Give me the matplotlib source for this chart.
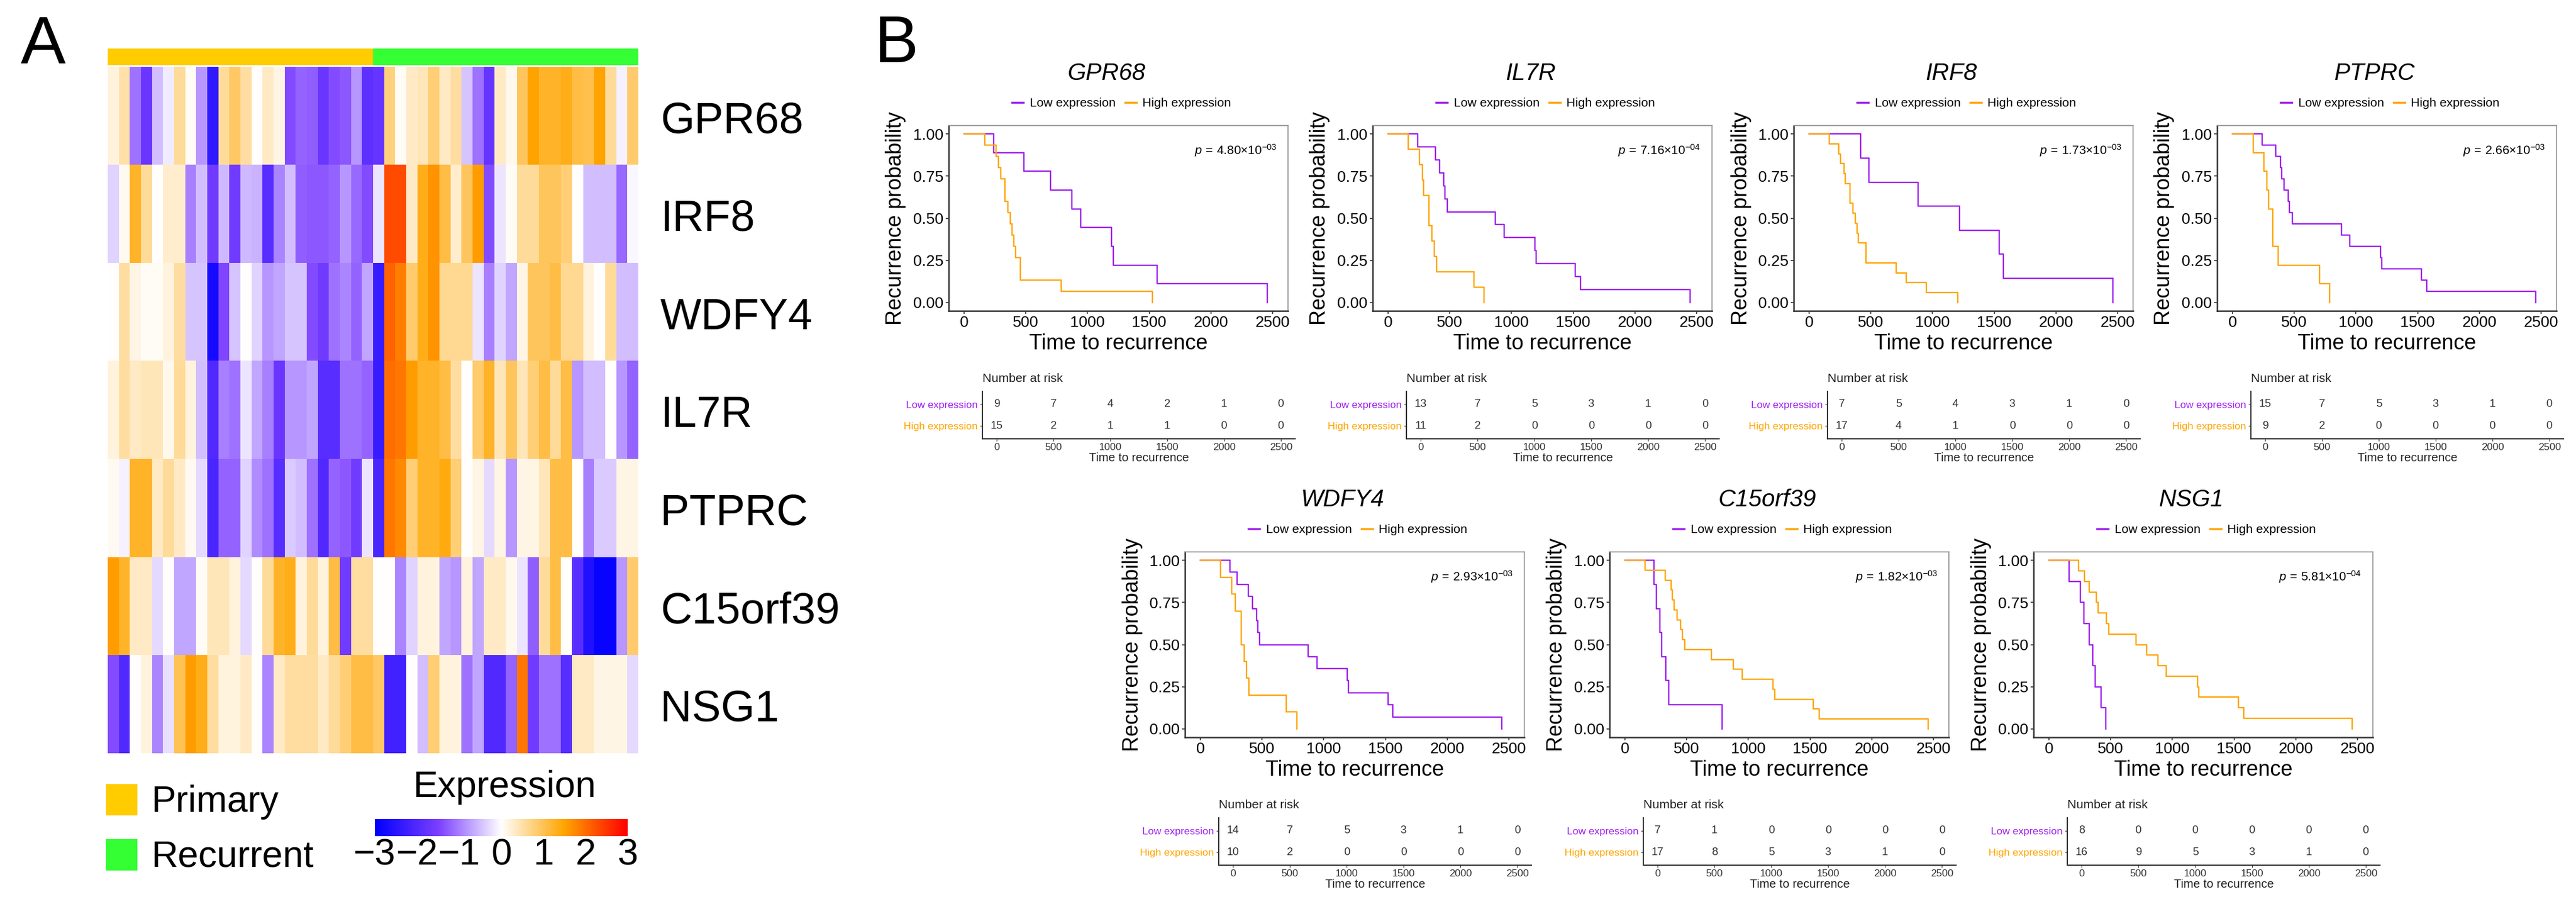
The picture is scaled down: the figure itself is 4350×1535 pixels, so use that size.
import numpy as np
import matplotlib.pyplot as plt
from matplotlib.colors import LinearSegmentedColormap, ListedColormap
from matplotlib.lines import Line2D
from matplotlib.patches import Rectangle
from matplotlib.transforms import blended_transform_factory

plt.rcParams['font.family'] = ['Liberation Sans', 'DejaVu Sans']
plt.rcParams['mathtext.fontset'] = 'custom'
plt.rcParams['mathtext.rm'] = 'Liberation Sans'
plt.rcParams['mathtext.it'] = 'Liberation Sans:italic'

# ---------------- heatmap data (z-scored expression, 7 genes x 48 samples) ----------------
heat_genes = ['GPR68', 'IRF8', 'WDFY4', 'IL7R', 'PTPRC', 'C15orf39', 'NSG1']
group_names = ['Primary', 'Recurrent']
group_colors = ['#FFCC00', '#33FF33']
sample_groups = ['Primary'] * 24 + ['Recurrent'] * 24

hm_gpr68 = [0.2, 0.5, -1.1, -1.7, -0.5, -0.15, 0.6, 0.05, -0.8, -2.4, 0.6, 0.9, 0.55, 0.0, 0.35, 0.15,
            -1.4, -1.2, -1.25, -1.7, -1.4, -1.3, -0.8, -1.85,
            -1.75, 0.75, 0.05, 0.35, 0.4, 0.8, 0.35, 0.55, -0.45, -1.1, -1.75, 0.35, 0.1, 0.95, 1.5, 1.25,
            1.25, 1.35, 1.1, 1.05, 1.5, 0.6, -0.1, 0.85]
hm_irf8 = [-0.35, 0.08, 1.25, 0.6, 0.0, 0.3, 0.3, -1.0, -0.5, -1.6, -0.55, -1.6, -0.55, -0.6, -1.9, -0.95,
           -0.5, -1.25, -1.3, -1.3, -1.2, -0.8, -1.15, -1.4,
           -0.2, 2.3, 2.3, 0.35, 1.35, 1.65, 1.1, 0.3, 0.95, 1.55, -1.4, -0.2, 0.05, 0.6, 0.6, 0.95,
           0.95, 0.8, 0.0, -0.5, -0.5, -0.5, -1.15, -0.05]
hm_wdfy4 = [0.02, 0.55, 0.15, 0.05, 0.05, 0.2, 0.55, -0.45, -0.45, -2.7, -1.45, -0.45, 0.0, -0.35, -0.8, -0.7,
            -0.45, -0.45, -1.4, -1.6, -1.1, -0.95, -1.2, -0.7,
            -2.3, 2.1, 1.85, 0.85, 1.35, 1.65, 0.65, 0.65, 0.65, -0.2, -1.0, -0.35, -0.7, 0.15, 0.95, 0.95,
            1.1, 0.65, 0.65, 0.2, 0.0, 0.6, -0.5, -0.5]
hm_il7r = [0.2, 0.55, 0.35, 0.4, 0.4, 0.1, 0.6, 0.2, -0.5, -2.0, -1.0, -1.1, -0.2, -0.7, -1.0, -1.7,
           -0.8, -0.8, -0.7, -1.9, -1.9, -1.1, -1.1, -1.2,
           -2.3, 2.0, 1.9, 1.55, 1.25, 1.25, 1.1, 0.55, 0.0, 0.85, 1.25, 0.4, 0.95, 0.4, 0.8, 1.1,
           0.6, 1.1, -0.8, -0.5, -0.5, 0.0, -0.8, -1.2]
hm_ptprc = [0.08, -0.1, 1.25, 1.25, 0.35, 0.6, 0.35, 0.08, -0.3, -2.1, -1.2, -1.2, -0.35, -0.9, -1.1, -1.9,
            -0.4, -0.5, -1.1, -2.0, -1.2, -1.3, -1.6, -0.2,
            -2.1, 1.9, 1.75, 0.8, 1.25, 1.25, 1.4, 0.8, 0.0, 0.15, -0.3, 0.15, -0.8, 0.15, 0.15, 0.4,
            1.1, 1.1, 0.0, -1.0, -0.4, -0.4, 0.15, 0.15]
hm_c15orf39 = [1.55, 1.25, 0.35, 0.35, -0.3, 0.0, -0.7, -0.7, 0.05, 0.4, 0.4, 0.2, -0.3, 0.0, 0.6, 1.25,
               1.35, 0.2, 0.6, 0.2, 1.1, -1.6, 0.55, 0.55,
               0.0, 0.0, -0.95, -0.35, 0.2, 0.2, -0.7, -0.8, 0.2, -0.7, 0.35, 0.35, 0.1, -0.2, -1.25, 0.6,
               1.1, 0.0, -1.9, -2.6, -2.9, -2.9, -0.8, 0.85]
hm_nsg1 = [-1.4, -2.0, 0.0, 0.2, -0.95, -0.25, 1.0, 1.55, 1.35, 0.55, 0.2, 0.2, 0.35, 0.0, -0.95, 0.35,
           0.55, 0.55, 0.55, 0.35, 0.6, 0.8, 1.1, 1.1,
           0.9, -2.2, -2.2, 0.0, -0.5, 0.8, 0.2, 0.2, -1.1, -0.7, -2.0, -2.0, -1.2, 1.9, -1.6, -1.1,
           -1.1, -1.9, 0.35, 0.35, 0.15, 0.15, 0.15, -0.3]
cbar_ticks = [-3, -2, -1, 0, 1, 2, 3]

# ---------------- Kaplan-Meier step data (time, probability) ----------------
gpr68_low_t = [0, 242, 485, 700, 874, 947, 1194, 1207, 1564, 2456]
gpr68_low_s = [1, 0.889, 0.778, 0.667, 0.556, 0.444, 0.333, 0.222, 0.111, 0]
gpr68_high_t = [0, 170, 258, 280, 297, 330, 357, 374, 390, 401, 418, 458, 786, 1526]
gpr68_high_s = [1, 0.933, 0.867, 0.8, 0.733, 0.6, 0.533, 0.467, 0.4, 0.333, 0.267, 0.133, 0.067, 0]

il7r_low_t = [0, 239, 385, 417, 453, 459, 481, 870, 940, 1190, 1201, 1517, 1558, 2447]
il7r_low_s = [1, 0.923, 0.846, 0.769, 0.692, 0.615, 0.538, 0.462, 0.385, 0.308, 0.231, 0.154, 0.077, 0]
il7r_high_t = [0, 165, 254, 278, 288, 329, 357, 374, 395, 695, 778]
il7r_high_s = [1, 0.909, 0.818, 0.727, 0.636, 0.455, 0.364, 0.273, 0.182, 0.091, 0]

irf8_low_t = [0, 418, 483, 883, 1219, 1539, 1576, 2460]
irf8_low_s = [1, 0.857, 0.714, 0.571, 0.429, 0.286, 0.143, 0]
irf8_high_t = [0, 162, 240, 255, 281, 292, 331, 353, 375, 390, 400, 461, 703, 786, 952, 1203]
irf8_high_s = [1, 0.941, 0.882, 0.824, 0.765, 0.706, 0.588, 0.529, 0.471, 0.412, 0.353, 0.235, 0.176,
               0.118, 0.059, 0]

ptprc_low_t = [0, 240, 352, 388, 398, 417, 452, 460, 483, 881, 952, 1198, 1210, 1531, 1574, 2455]
ptprc_low_s = [1, 0.933, 0.867, 0.8, 0.733, 0.667, 0.6, 0.533, 0.467, 0.4, 0.333, 0.267, 0.2, 0.133,
               0.067, 0]
ptprc_high_t = [0, 167, 252, 276, 293, 324, 371, 705, 786]
ptprc_high_s = [1, 0.889, 0.778, 0.667, 0.556, 0.333, 0.222, 0.111, 0]

wdfy4_low_t = [0, 241, 296, 390, 421, 456, 463, 482, 873, 943, 1189, 1202, 1520, 1561, 2445]
wdfy4_low_s = [1, 0.929, 0.857, 0.786, 0.714, 0.643, 0.571, 0.5, 0.429, 0.357, 0.286, 0.214, 0.143,
               0.071, 0]
wdfy4_high_t = [0, 164, 252, 281, 329, 355, 375, 395, 695, 783]
wdfy4_high_s = [1, 0.9, 0.8, 0.7, 0.5, 0.4, 0.3, 0.2, 0.1, 0]

c15_low_t = [0, 237, 254, 282, 295, 330, 356, 787]
c15_low_s = [1, 0.857, 0.714, 0.571, 0.429, 0.286, 0.143, 0]
c15_high_t = [0, 162, 328, 373, 384, 399, 420, 453, 463, 485, 700, 877, 948, 1200, 1213, 1526, 1573, 2455]
c15_high_s = [1, 0.941, 0.882, 0.824, 0.765, 0.706, 0.647, 0.588, 0.529, 0.471, 0.412, 0.353, 0.294,
              0.235, 0.176, 0.118, 0.059, 0]

nsg1_low_t = [0, 162, 255, 281, 327, 353, 374, 422, 461]
nsg1_low_s = [1, 0.875, 0.75, 0.625, 0.5, 0.375, 0.25, 0.125, 0]
nsg1_high_t = [0, 240, 288, 327, 385, 396, 465, 483, 703, 790, 883, 948, 1203, 1214, 1537, 1580, 2455]
nsg1_high_s = [1, 0.9375, 0.875, 0.8125, 0.75, 0.6875, 0.625, 0.5625, 0.5, 0.4375, 0.375, 0.3125, 0.25,
               0.1875, 0.125, 0.0625, 0]

# p-values of the log-rank tests
p_values = {'GPR68': 4.80e-03, 'IL7R': 7.16e-04, 'IRF8': 1.73e-03, 'PTPRC': 2.66e-03,
            'WDFY4': 2.93e-03, 'C15orf39': 1.82e-03, 'NSG1': 5.81e-04}

# number at risk (low, high) at risk_times
risk_times = [0, 500, 1000, 1500, 2000, 2500]
gpr68_risk = ([9, 7, 4, 2, 1, 0], [15, 2, 1, 1, 0, 0])
il7r_risk = ([13, 7, 5, 3, 1, 0], [11, 2, 0, 0, 0, 0])
irf8_risk = ([7, 5, 4, 3, 1, 0], [17, 4, 1, 0, 0, 0])
ptprc_risk = ([15, 7, 5, 3, 1, 0], [9, 2, 0, 0, 0, 0])
wdfy4_risk = ([14, 7, 5, 3, 1, 0], [10, 2, 0, 0, 0, 0])
c15_risk = ([7, 1, 0, 0, 0, 0], [17, 8, 5, 3, 1, 0])
nsg1_risk = ([8, 0, 0, 0, 0, 0], [16, 9, 5, 3, 1, 0])

PURPLE = '#A020F0'
ORANGE = '#FFA500'

W, H = 4350, 1535
fig = plt.figure(figsize=(W / 100, H / 100), dpi=100)


def fx(x):
    return x / W


def fy(y):
    return 1 - y / H


def px_axes(x0, y0, x1, y1):
    return fig.add_axes([fx(x0), fy(y1), (x1 - x0) / W, (y1 - y0) / H])


# ================= Panel A : heatmap =================
fig.text(fx(35), fy(107), 'A', fontsize=82, va='baseline', ha='left')

expr = np.array([hm_gpr68, hm_irf8, hm_wdfy4, hm_il7r, hm_ptprc, hm_c15orf39, hm_nsg1])
cmap = LinearSegmentedColormap.from_list(
    'expr', [(0, '#0000FF'), (0.25, '#7B3FFF'), (0.5, '#FFFFFF'), (0.75, '#FFA500'), (1, '#FF0000')])

ax_ann = px_axes(182, 82, 1078, 110)
codes = [group_names.index(g) for g in sample_groups]
ax_ann.imshow([codes], cmap=ListedColormap(group_colors), vmin=0, vmax=1,
              aspect='auto', interpolation='nearest')
ax_ann.set_axis_off()

ax_hm = px_axes(182, 113, 1078, 1272)
ax_hm.imshow(expr, cmap=cmap, vmin=-3, vmax=3, aspect='auto', interpolation='nearest')
ax_hm.set_axis_off()

trans = blended_transform_factory(fig.transFigure, ax_hm.transData)
for i, g in enumerate(heat_genes):
    fig.text(fx(1115), i + 0.055, g, transform=trans, fontsize=53, va='center', ha='left')

# group legend
for k, (name, col) in enumerate(zip(group_names, group_colors)):
    top = 1324 + k * 93
    fig.patches.append(Rectangle((fx(179), fy(top + 53)), 53 / W, 53 / H,
                                 transform=fig.transFigure, color=col, lw=0))
    fig.text(fx(256), fy(top + 47), name, fontsize=45, va='baseline', ha='left')

# colour key
fig.text(fx(852), fy(1346), 'Expression', fontsize=45, ha='center', va='baseline')
ax_cb = px_axes(633, 1383, 1060, 1412)
ax_cb.imshow([np.linspace(-3, 3, 256)], cmap=cmap, vmin=-3, vmax=3, aspect='auto',
             extent=(-3, 3, 0, 1))
ax_cb.set_yticks([])
ax_cb.set_xticks(cbar_ticks)
ax_cb.set_xticklabels([str(t).replace('-', '\u2212') for t in cbar_ticks], fontsize=45)
ax_cb.tick_params(length=0, pad=1.5)
for s in ax_cb.spines.values():
    s.set_visible(False)

# ================= Panel B : Kaplan-Meier curves =================
fig.text(fx(1477), fy(105), 'B', fontsize=80, va='baseline', ha='left')

PW, PH = 573, 313


def km_panel(x0, y0, gene, low_t, low_s, high_t, high_s, risk):
    ax = px_axes(x0, y0, x0 + PW, y0 + PH)
    ax.step(low_t, low_s, where='post', color=PURPLE, lw=1.7)
    ax.step(high_t, high_s, where='post', color=ORANGE, lw=1.7)
    ax.set_xlim(-125, 2625)
    ax.set_ylim(-0.05, 1.05)
    ax.set_xticks(risk_times)
    ax.set_yticks([0, 0.25, 0.5, 0.75, 1.0])
    ax.set_yticklabels(['0.00', '0.25', '0.50', '0.75', '1.00'])
    ax.tick_params(labelsize=19, length=3.6, width=1.2, color='#333333', pad=2)
    ax.tick_params(axis='y', pad=3)
    for side in ['left', 'bottom']:
        ax.spines[side].set_color('#333333')
        ax.spines[side].set_linewidth(1.8)
    for side in ['top', 'right']:
        ax.spines[side].set_color('#9A9A9A')
        ax.spines[side].set_linewidth(1.3)
    ax.set_xlabel('Time to recurrence', fontsize=26, va='center')
    ax.xaxis.set_label_coords(0.5, -56 / PH)
    ax.set_ylabel('Recurrence probability', fontsize=26, va='center')
    ax.yaxis.set_label_coords(-89 / PW, 0.5)

    # title and legend
    fig.text(fx(x0 + PW / 2 - 20), fy(y0 - 77), gene, fontsize=29, style='italic',
             ha='center', va='baseline')
    handles = [Line2D([], [], color=PURPLE, lw=2.5), Line2D([], [], color=ORANGE, lw=2.5)]
    ax.legend(handles, ['Low expression', 'High expression'], ncol=2, frameon=False,
              fontsize=15, handlelength=0.9, handletextpad=0.5, columnspacing=0.8,
              loc='center', bbox_to_anchor=(0.51, 1 + 37 / PH), borderaxespad=0)

    mant, expo = f'{p_values[gene]:.2e}'.split('e')
    ax.text(0.967, 0.865, r'$p\,=\,%s{\times}10^{%s}$' % (mant, expo),
            transform=ax.transAxes, ha='right', va='center', fontsize=15)

    # number at risk table
    tx = px_axes(x0 + 57, y0 + 449, x0 + 585, y0 + 529)
    tx.set_xlim(-125, 2625)
    tx.set_ylim(0.4, 2.6)
    for t, nl, nh in zip(risk_times, risk[0], risk[1]):
        tx.text(t, 2, str(nl), ha='center', va='center', fontsize=13.5, color='#333333')
        tx.text(t, 1, str(nh), ha='center', va='center', fontsize=13.5, color='#333333')
    tx.set_xticks(risk_times)
    tx.set_yticks([1, 2])
    tx.set_yticklabels(['High expression', 'Low expression'])
    for lbl, c in zip(tx.get_yticklabels(), [ORANGE, PURPLE]):
        lbl.set_color(c)
    tx.tick_params(axis='y', labelsize=12.5, length=3, pad=3, color='#333333')
    tx.tick_params(axis='x', labelsize=12.5, length=3, pad=2, color='#333333', labelcolor='#333333')
    tx.spines[['top', 'right']].set_visible(False)
    for side in ['left', 'bottom']:
        tx.spines[side].set_color('#333333')
        tx.spines[side].set_linewidth(1.5)
    tx.set_xlabel('Time to recurrence', fontsize=14.5, labelpad=1, color='#222222')
    tx.text(0, 1.27, 'Number at risk', transform=tx.transAxes, fontsize=15,
            ha='left', va='center', color='#222222')


km_panel(1602, 212, 'GPR68', gpr68_low_t, gpr68_low_s, gpr68_high_t, gpr68_high_s, gpr68_risk)
km_panel(2318, 212, 'IL7R', il7r_low_t, il7r_low_s, il7r_high_t, il7r_high_s, il7r_risk)
km_panel(3029, 212, 'IRF8', irf8_low_t, irf8_low_s, irf8_high_t, irf8_high_s, irf8_risk)
km_panel(3744, 212, 'PTPRC', ptprc_low_t, ptprc_low_s, ptprc_high_t, ptprc_high_s, ptprc_risk)
km_panel(2001, 932, 'WDFY4', wdfy4_low_t, wdfy4_low_s, wdfy4_high_t, wdfy4_high_s, wdfy4_risk)
km_panel(2718, 932, 'C15orf39', c15_low_t, c15_low_s, c15_high_t, c15_high_s, c15_risk)
km_panel(3434, 932, 'NSG1', nsg1_low_t, nsg1_low_s, nsg1_high_t, nsg1_high_s, nsg1_risk)

fig.savefig('out.png', dpi=100)
